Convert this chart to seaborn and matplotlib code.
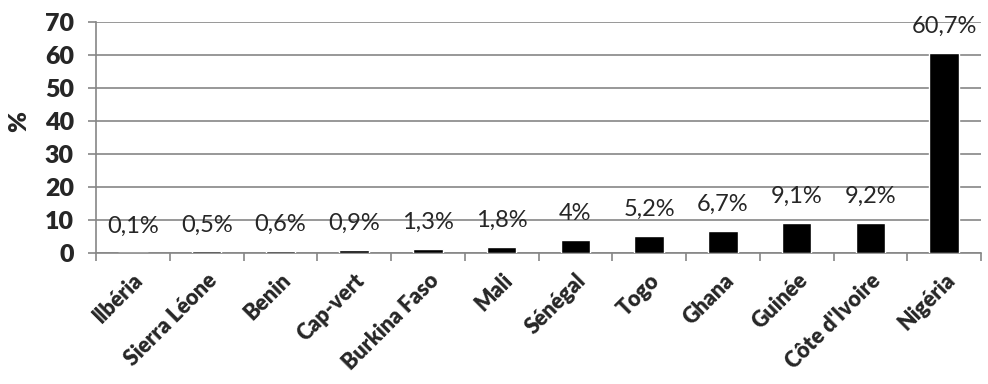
import matplotlib
matplotlib.use("Agg")
import matplotlib.pyplot as plt
import seaborn as sns
import pandas as pd
import numpy as np

# Share per country (%)
countries = ["llbéria", "Sierra Léone", "Benin", "Cap-vert", "Burkina Faso", "Mali",
             "Sénégal", "Togo", "Ghana", "Guinée", "Côte d'Ivoire", "Nigéria"]
shares = [0.1, 0.5, 0.6, 0.9, 1.3, 1.8, 4.0, 5.2, 6.7, 9.1, 9.2, 60.7]
y_ticks = [0, 10, 20, 30, 40, 50, 60, 70]

df = pd.DataFrame({"pays": countries, "part": shares})

sns.set_style("white")
plt.rcParams["font.family"] = ["Lato", "DejaVu Sans"]

GRID = "#868686"

fig = plt.figure(figsize=(9.88, 3.84), dpi=100)
ax = fig.add_axes([96 / 988, 1 - 253 / 384, 885 / 988, 231 / 384])

sns.barplot(data=df, x="pays", y="part", color="black", width=0.4,
            saturation=1, ax=ax, zorder=3)

ax.set_xlim(-0.5, len(countries) - 0.5)
ax.set_ylim(0, 70)
ax.set_yticks(y_ticks)
ax.set_yticklabels([str(t) for t in y_ticks], fontsize=18, fontweight="heavy")

# horizontal grid
ax.yaxis.grid(True, color=GRID, linewidth=1.2, zorder=0)
ax.xaxis.grid(False)
ax.set_axisbelow(True)

for side in ["top", "right"]:
    ax.spines[side].set_visible(False)
for side in ["left", "bottom"]:
    ax.spines[side].set_color(GRID)
    ax.spines[side].set_linewidth(1.2)

ax.tick_params(axis="y", length=6, width=1.2, color=GRID, pad=10, left=True)

# category labels centred, tick marks between categories
ax.set_xticks(range(len(countries)))
ax.set_xticklabels(countries, rotation=45, ha="right", rotation_mode="anchor",
                   fontsize=15.5, fontweight="heavy")
ax.tick_params(axis="x", which="major", length=0, pad=12)
ax.set_xticks(np.arange(-0.5, len(countries), 1), minor=True)
ax.tick_params(axis="x", which="minor", length=6, width=1.2, color=GRID,
               bottom=True)

ax.set_xlabel("")
ax.set_ylabel("%", fontsize=18, fontweight="heavy", va="center")
ax.yaxis.set_label_coords(-0.087, 0.571)

# value labels above the bars
for i, v in enumerate(shares):
    txt = f"{v:g}".replace(".", ",") + "%"
    ax.annotate(txt, (i, v), xytext=(0, 19), textcoords="offset points",
                ha="center", va="center", fontsize=17, zorder=4)

fig.savefig("out.png", dpi=100)
